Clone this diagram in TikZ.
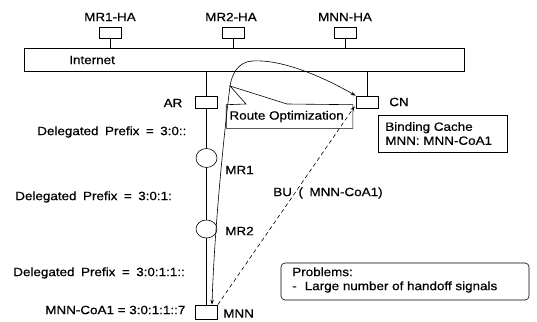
\documentclass[tikz,border=0pt]{standalone}
\usepackage{fontspec}
\setmainfont[FakeStretch=1.12,FakeBold=0.6]{Liberation Sans}
\usetikzlibrary{arrows.meta,shapes.geometric}
\newcommand\mywidesp{\spaceskip 6.5pt\relax}
\begin{document}
\begin{tikzpicture}[x=1pt,y=-1pt,
  lbl/.style={font=\fontsize{12}{14}\selectfont, inner sep=0pt},
  wide/.style={font=\fontsize{12}{14}\selectfont\mywidesp},
  box/.style={draw, rectangle, inner sep=0pt, minimum width=22pt, minimum height=12pt},
  rtr/.style={draw, ellipse, inner sep=0pt, minimum width=21pt, minimum height=19pt},
  tip/.style={-{Stealth[length=5pt,width=3.5pt]}},
  line width=0.6pt]
\useasboundingbox (0,0) rectangle (537,321);
% Internet bar
\node[draw, rectangle, minimum width=440pt, minimum height=23pt, inner sep=0pt] (inet) at (244,59.5) {};
\node[lbl, anchor=west] (inettxt) at (69,60) {Internet};
% Home agents
\node[box, minimum height=11pt] (ha1) at (110,32.5) {};
\node[box, minimum height=11pt] (ha2) at (233.5,32.5) {};
\node[box, minimum height=11pt] (ha3) at (345.5,32.5) {};
\node[lbl] (ha1t) at (110,17) {MR1-HA};
\node[lbl] (ha2t) at (231,17) {MR2-HA};
\node[lbl] (ha3t) at (345,17) {MNN-HA};
\draw (ha1.south) -- (ha1.south |- inet.north);
\draw (ha2.south) -- (ha2.south |- inet.north);
\draw (ha3.south) -- (ha3.south |- inet.north);
% AR, CN
\node[box] (ar) at (206.5,102) {};
\node[box] (cn) at (367,102) {};
\node[lbl] (art) at (173,103) {AR};
\node[lbl] (cnt) at (399,102) {CN};
\draw (ar.north) -- (ar.north |- inet.south);
\draw (cn.north) -- (cn.north |- inet.south);
% mobile routers
\node[rtr] (mr1) at (206.5,158) {};
\node[rtr, minimum height=18pt] (mr2) at (206.5,229) {};
\node[box, minimum height=14pt] (mnn) at (206.5,312) {};
\node[lbl, anchor=west] (mr1t) at (225,170) {MR1};
\node[lbl, anchor=west] (mr2t) at (225,231) {MR2};
\node[lbl, anchor=west] (mnnt) at (223,313.5) {MNN};
\draw (ar.south) -- (mr1.north);
\draw (mr1.south) -- (mr2.north);
\draw (mr2.south) -- (mnn.north);
% prefixes
\node[lbl, wide, anchor=west] (p1) at (37,132) {Delegated Prefix = 3:0::};
\node[lbl, wide, anchor=west] (p2) at (15,197) {Delegated Prefix = 3:0:1:};
\node[lbl, wide, anchor=west] (p3) at (13,273) {Delegated Prefix = 3:0:1:1::};
\node[lbl, anchor=west] (p4) at (45,310) {MNN-CoA1 = 3:0:1:1::7};
% route optimization callout
\coordinate (rotip) at (230,86);
\node[minimum width=126pt, minimum height=23pt, inner sep=0pt] (ro) at (289.5,116.5) {};
\draw[fill=white] (ro.north west) -- (246,104) -- (rotip) -- (287,104) -- (ro.north east)
  -- (ro.south east) -- (ro.south west) -- cycle;
\node[lbl, anchor=west] (rot) at ([xshift=3pt]ro.west) {Route Optimization};
% curved route
\draw[tip] (rotip) .. controls (232,74) and (238,62) .. (252,61)
  .. controls (280,59) and (320,75) .. (cn.north west);
\draw[tip] (rotip) .. controls (222,150) and (214,240) .. ([xshift=5.5pt]mnn.north);
% binding update
\draw[tip, dashed, dash pattern=on 4pt off 3pt] (mnn.north east) -- ([xshift=-1pt,yshift=2pt]cn.south west);
\node[lbl, wide, anchor=west] (bu) at (273,193) {BU ( MNN-CoA1)};
% binding cache
\node[draw, rectangle, minimum width=129pt, minimum height=37pt, inner sep=0pt] (bc) at (442.5,133.5) {};
\node[lbl, anchor=west, align=left] (bct) at (385,133.5) {Binding Cache\\MNN: MNN-CoA1};
% problems
\node[draw, rectangle, rounded corners=4pt, minimum width=248pt, minimum height=37pt, inner sep=0pt] (pb) at (405,281.5) {};
\node[lbl, anchor=west, align=left] (pbt) at (292,280) {Problems:\\-\hspace{8pt}Large number of handoff signals};
\end{tikzpicture}
\end{document}
